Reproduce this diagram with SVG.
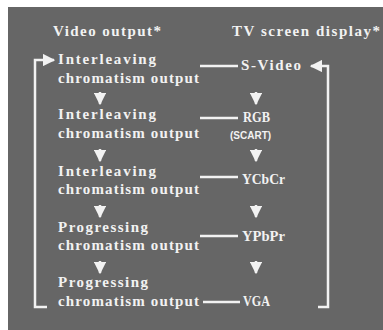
<svg xmlns="http://www.w3.org/2000/svg" width="383" height="330" viewBox="0 0 383 330">
<defs>
<style>
.t{font-family:"Liberation Serif","DejaVu Serif",serif;font-size:15px;font-weight:bold;fill:#f2f2f2}
.s{font-family:"Liberation Sans",Arial,sans-serif;font-size:10px;font-weight:bold;fill:#f2f2f2}
.l{stroke:#f2f2f2;stroke-width:2.5;fill:none}
</style>
<marker id="ah" viewBox="0 0 10 10" refX="9" refY="5" markerWidth="5" markerHeight="5" orient="auto" markerUnits="strokeWidth">
<path d="M0,0 L10,5 L0,10 Z" fill="#f2f2f2"/>
</marker>
</defs>
<rect x="0" y="0" width="383" height="330" fill="#ffffff"/>
<rect x="8" y="7" width="375" height="323" fill="#666666"/>
<g id="titles">
<text class="t" x="53" y="36" textLength="108" lengthAdjust="spacing">Video output*</text>
<text class="t" x="232" y="36" textLength="148" lengthAdjust="spacing">TV screen display*</text>
</g>
<g id="out1"><text class="t" x="58" y="64" textLength="98" lengthAdjust="spacing">Interleaving</text><text class="t" x="58" y="83" textLength="141" lengthAdjust="spacing">chromatism output</text></g>
<g id="out2"><text class="t" x="58" y="119" textLength="98" lengthAdjust="spacing">Interleaving</text><text class="t" x="58" y="138" textLength="141" lengthAdjust="spacing">chromatism output</text></g>
<g id="out3"><text class="t" x="58" y="176" textLength="98" lengthAdjust="spacing">Interleaving</text><text class="t" x="58" y="194" textLength="141" lengthAdjust="spacing">chromatism output</text></g>
<g id="out4"><text class="t" x="58" y="232" textLength="90" lengthAdjust="spacing">Progressing</text><text class="t" x="58" y="250" textLength="141" lengthAdjust="spacing">chromatism output</text></g>
<g id="out5"><text class="t" x="58" y="287" textLength="90" lengthAdjust="spacing">Progressing</text><text class="t" x="58" y="306" textLength="141" lengthAdjust="spacing">chromatism output</text></g>
<g id="svideo"><text class="t" x="241" y="70" textLength="60" lengthAdjust="spacing">S-Video</text></g>
<g id="rgb"><text class="t" x="243" y="122" textLength="27" lengthAdjust="spacingAndGlyphs">RGB</text><text class="s" x="230" y="139">(SCART)</text></g>
<g id="ycbcr"><text class="t" x="242" y="184" textLength="43" lengthAdjust="spacingAndGlyphs">YCbCr</text></g>
<g id="ypbpr"><text class="t" x="242" y="241" textLength="43" lengthAdjust="spacingAndGlyphs">YPbPr</text></g>
<g id="vga"><text class="t" x="243" y="306" textLength="27" lengthAdjust="spacingAndGlyphs">VGA</text></g>
<g id="connectors">
<line class="l" x1="200" y1="66" x2="238" y2="66"/>
<line class="l" x1="200" y1="118" x2="238" y2="118"/>
<line class="l" x1="200" y1="177" x2="238" y2="177"/>
<line class="l" x1="200" y1="236" x2="238" y2="236"/>
<line class="l" x1="203" y1="302" x2="240" y2="302"/>
<path class="l" d="M47,307 H35 V60 H54" marker-end="url(#ah)"/>
<path class="l" d="M318,307 H328 V66 H311" marker-end="url(#ah)"/>
<line class="l" x1="100" y1="92" x2="100" y2="104" marker-end="url(#ah)"/>
<line class="l" x1="100" y1="149" x2="100" y2="161" marker-end="url(#ah)"/>
<line class="l" x1="100" y1="205" x2="100" y2="217" marker-end="url(#ah)"/>
<line class="l" x1="100" y1="261" x2="100" y2="273" marker-end="url(#ah)"/>
<line class="l" x1="256" y1="92" x2="256" y2="104" marker-end="url(#ah)"/>
<line class="l" x1="256" y1="149" x2="256" y2="161" marker-end="url(#ah)"/>
<line class="l" x1="256" y1="205" x2="256" y2="217" marker-end="url(#ah)"/>
<line class="l" x1="256" y1="261" x2="256" y2="273" marker-end="url(#ah)"/>
</g>
</svg>
